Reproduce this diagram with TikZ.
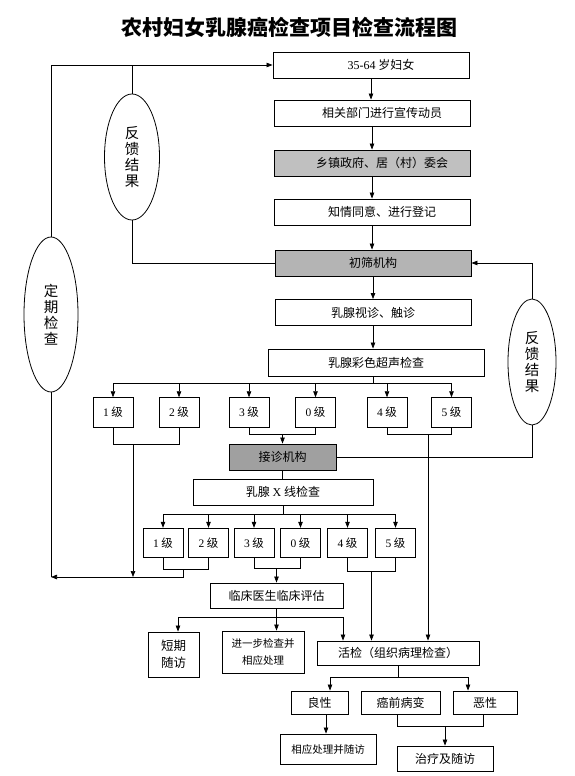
\documentclass[tikz,border=0pt]{standalone}
\usepackage{fontspec}
\setmainfont{Liberation Serif}
\newfontfamily\cjk{Noto Sans CJK SC}
\usetikzlibrary{arrows.meta,shapes.geometric}
\definecolor{govgray}{HTML}{C0C0C0}
\definecolor{screengray}{HTML}{B4B4B4}
\definecolor{clinicgray}{HTML}{A0A0A0}

\begin{document}
\begin{tikzpicture}[x=1pt,y=-1pt,line width=0.7pt,>={Triangle[length=6pt,width=4.5pt]},
  box/.style={draw,line width=0.9pt,inner sep=0pt,font=\cjk\fontsize{12}{14}\selectfont},
  col/.style={box,minimum width=196pt,minimum height=26pt},
  lvl/.style={box,minimum width=40pt,minimum height=29.5pt,font=\cjk\fontsize{11.5}{13}\selectfont},
  fb/.style={draw,ellipse,line width=0.8pt,inner sep=0pt,align=center,font=\cjk\fontsize{14.5}{16}\selectfont}]
\useasboundingbox (0,0) rectangle (574,776);
\node[font=\cjk\bfseries\fontsize{21}{21}\selectfont] (title) at (289,27) {农村妇女乳腺癌检查项目检查流程图};

\node[col] (women) at (371,65) {\hspace*{20pt}{\rmfamily 35-64} 岁妇女};
\node[col] (promo) at (372,113) {\hspace*{20pt}相关部门进行宣传动员};
\node[col,fill=govgray] (gov) at (372,163) {\hspace*{20pt}乡镇政府、居（村）委会};
\node[col] (consent) at (372,212) {\hspace*{20pt}知情同意、进行登记};
\node[col,fill=screengray] (screen) at (373,263) {初筛机构};
\node[col] (palp) at (373,312.5) {乳腺视诊、触诊};
\node[box,minimum width=216pt,minimum height=27pt] (us) at (376,362.5) {乳腺彩色超声检查};
\foreach \a/\b in {women/promo,promo/gov,gov/consent,consent/screen,screen/palp,palp/us}
  \draw[->] (\a.south) -- (\a.south |- \b.north);

\foreach \n/\x/\t in {u1/113/1,u2/179/2,u3/249/3,u0/315.5/0,u4/387/4,u5/451.5/5}
  \node[lvl] (\n) at (\x,412.5) {{\rmfamily\t} 级};
\draw (palp.south |- us.south) -- ++(0,7) coordinate (ub);
\draw (u1.north |- ub) -- (u5.north |- ub);
\foreach \n in {u1,u2,u3,u0,u4,u5}
  \draw[->] (\n.north |- ub) -- (\n.north);

\node[box,fill=clinicgray,minimum width=107pt,minimum height=26pt] (clinic) at (282.5,457) {接诊机构};
\node[box,minimum width=180pt,minimum height=26pt] (xray) at (283,492) {乳腺 {\rmfamily X} 线检查};
\draw (clinic.south) -- (clinic.south |- xray.north);

\foreach \n/\x/\t in {x1/163/1,x2/208.5/2,x3/254/3,x0/300.5/0,x4/347.5/4,x5/395.5/5}
  \node[lvl] (\n) at (\x,543) {{\rmfamily\t} 级};
\draw (xray.south) -- ++(0,9) coordinate (xb);
\draw (x1.north |- xb) -- (x5.north |- xb);
\foreach \n in {x1,x2,x3,x0,x4,x5}
  \draw[->] (\n.north |- xb) -- (\n.north);

\node[box,minimum width=133pt,minimum height=25pt] (eval) at (276.5,595.5) {临床医生临床评估};
\node[box,minimum width=51pt,minimum height=45pt,align=center,font=\cjk\fontsize{12.5}{17}\selectfont] (short) at (173.5,654.5) {短期\\随访};
\node[box,minimum width=82pt,minimum height=42pt,align=center,font=\cjk\fontsize{10.5}{17}\selectfont] (further) at (263,652) {进一步检查并\\相应处理};
\node[box,minimum width=162pt,minimum height=24pt] (biopsy) at (398,653) {活检（组织病理检查）};
\node[box,minimum width=57pt,minimum height=23pt] (benign) at (319.5,702.5) {良性};
\node[box,minimum width=79pt,minimum height=23pt] (pre) at (400.5,702.5) {癌前病变};
\node[box,minimum width=64pt,minimum height=23pt] (malig) at (485,702.5) {恶性};
\node[box,minimum width=96pt,minimum height=30pt,font=\cjk\fontsize{10.5}{13}\selectfont] (followup) at (328,749) {相应处理并随访};
\node[box,minimum width=96pt,minimum height=25pt] (treat) at (445,758.5) {治疗及随访};

\node[fb,minimum width=55pt,minimum height=126pt] (fb1) at (132,157) {反\\馈\\结\\果};
\node[fb,minimum width=54pt,minimum height=155pt] (reg) at (51,314.5) {定\\期\\检\\查};
\node[fb,minimum width=48pt,minimum height=126pt] (fb2) at (532,362) {反\\馈\\结\\果};
\coordinate (loop) at (51,577);

\draw (u1.south) -- ++(0,17) coordinate (u12) -| (u2.south);
\draw[->] ([xshift=20pt]u12) -- ([xshift=20pt]u12 |- loop);
\draw (u3.south) -- ++(0,7) coordinate (u30) -| (u0.south);
\draw[->] (clinic.north |- u30) -- (clinic.north);
\draw (u4.south) -- ++(0,7) coordinate (u45) -| (u5.south);
\draw[->] ([xshift=41pt]u45) -- ([xshift=41pt]u45 |- biopsy.north);

\draw (x1.south) -- ++(0,11) coordinate (x12) -| (x2.south);
\draw[->] ([xshift=20pt]x12) -- ([xshift=20pt]x12 |- loop) -- (loop);
\draw (x3.south) -- ++(0,10) coordinate (x30) -| (x0.south);
\draw[->] (eval.north |- x30) -- (eval.north);
\draw (x4.south) -- ++(0,13) coordinate (x45) -| (x5.south);
\draw[->] ([xshift=24pt]x45) -- ([xshift=24pt]x45 |- biopsy.north);

\draw (eval.south) -- ++(0,9) coordinate (eb);
\draw[->] (eb) -| ([xshift=4.5pt]short.north);
\draw[->] (eb) -- (eb |- further.north);
\draw[->] (eb) -| ([xshift=-55pt]biopsy.north);

\draw (biopsy.south) -- ++(0,12) coordinate (bb);
\draw[->] (bb) -| ([xshift=10.5pt]benign.north);
\draw[->] (bb) -| ([xshift=-17pt]malig.north);
\draw[->] ([xshift=6.5pt]benign.south) -- ([xshift=6.5pt]benign.south |- followup.north);
\draw ([xshift=-3.5pt]pre.south) -- ++(0,12) coordinate (pm) -| ([xshift=-2pt]malig.south);
\draw[->] (treat.north |- pm) -- (treat.north);

\draw (loop) -- (reg.south);
\draw[->] (reg.north) |- (women.west);
\draw (fb1.north) -- (fb1.north |- women.west);
\draw (screen.west) -| (fb1.south);
\draw (clinic.east) -| (fb2.south);
\draw[->] (fb2.north) |- (screen.east);
\end{tikzpicture}
\end{document}
